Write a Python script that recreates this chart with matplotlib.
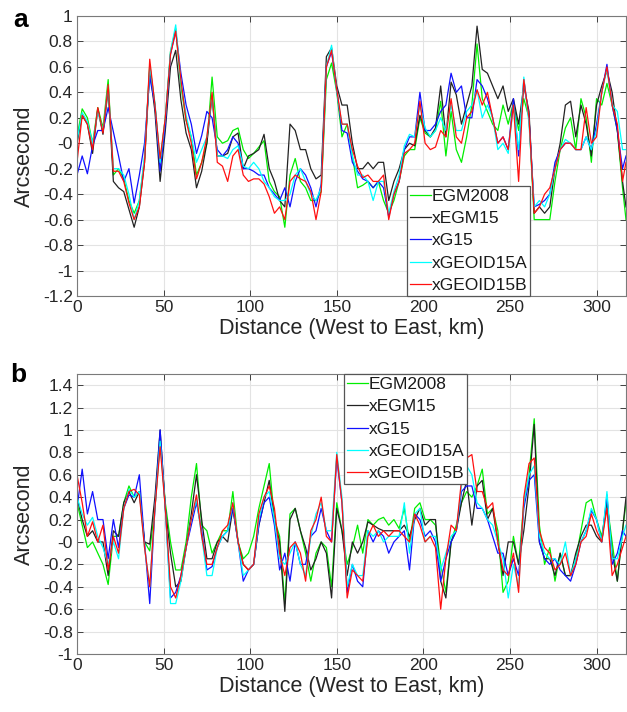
import numpy as np
import matplotlib
matplotlib.use("Agg")
import matplotlib.pyplot as plt

plt.rcParams['font.family'] = ['Liberation Sans', 'DejaVu Sans']

# distance along the profile, km (3 km steps plus the end point)
dist = list(range(0, 316, 3)) + [317]

labels = ["EGM2008", "xEGM15", "xG15", "xGEOID15A", "xGEOID15B"]
colors = ["#00ee00", "#222222", "#1010ff", "#00ffff", "#ff1010"]

# ---- panel a ----
a_egm2008 = [0.05, 0.27, 0.2, 0.0, 0.28, 0.12, 0.5, -0.25, -0.2, -0.28,
             -0.45, -0.55, -0.45, -0.12, 0.62, 0.3, -0.15, 0.2, 0.72, 0.9,
             0.45, 0.18, 0.05, -0.25, -0.15, 0.0, 0.52, 0.05, 0.0, 0.02,
             0.1, 0.12, -0.05, -0.12, -0.08, -0.03, 0.02, -0.3, -0.38, -0.42,
             -0.66, -0.25, -0.12, -0.3, -0.35, -0.45, -0.45, -0.38, 0.5, 0.63,
             0.4, 0.05, 0.15, -0.1, -0.35, -0.33, -0.3, -0.35, -0.3, -0.45,
             -0.55, -0.45, -0.3, -0.1, -0.05, -0.05, 0.2, 0.08, 0.05, 0.1,
             0.33, -0.1, 0.25, -0.05, -0.15, 0.05, 0.3, 0.78, 0.35, 0.25,
             0.15, 0.1, 0.3, 0.15, 0.32, 0.1, 0.35, 0.2, -0.6, -0.6,
             -0.6, -0.6, -0.3, -0.05, 0.12, 0.2, -0.05, 0.35, 0.2, -0.15,
             0.35, 0.3, 0.47, 0.3, 0.1, -0.35, -0.6]
a_xegm15 = [0.0, 0.22, 0.15, -0.08, 0.27, 0.07, 0.42, -0.3, -0.35, -0.38,
            -0.52, -0.66, -0.5, -0.15, 0.58, 0.25, -0.3, 0.1, 0.6, 0.73,
            0.34, 0.08, -0.05, -0.35, -0.22, 0.0, 0.37, -0.1, -0.1, -0.08,
            0.05, 0.08, -0.2, -0.1, -0.08, -0.05, 0.07, -0.2, -0.3, -0.45,
            -0.5, 0.15, 0.1, -0.05, -0.05, -0.2, -0.28, -0.25, 0.68, 0.75,
            0.45, 0.3, 0.3, 0.0, -0.2, -0.2, -0.15, -0.2, -0.15, -0.15,
            -0.45, -0.3, -0.2, -0.05, 0.0, -0.02, 0.22, 0.1, 0.05, 0.12,
            0.45, 0.05, 0.48, 0.38, 0.15, 0.3, 0.45, 0.92, 0.58, 0.55,
            0.45, 0.35, 0.45, 0.25, 0.35, 0.15, 0.45, 0.25, -0.55, -0.5,
            -0.55, -0.5, -0.2, 0.0, 0.3, 0.33, 0.05, 0.3, 0.15, -0.1,
            0.3, 0.45, 0.57, 0.4, 0.1, -0.3, -0.5]
a_xg15 = [-0.25, -0.1, -0.24, -0.02, 0.1, 0.1, 0.28, 0.09, -0.1, -0.3,
          -0.2, -0.47, -0.25, 0.0, 0.52, 0.3, -0.22, 0.15, 0.7, 0.88,
          0.55, 0.3, 0.15, -0.08, 0.06, 0.25, 0.2, -0.05, -0.1, -0.05,
          0.05, 0.0, -0.2, -0.2, -0.22, -0.25, -0.25, -0.35, -0.4, -0.45,
          -0.35, -0.5, -0.3, -0.2, -0.25, -0.35, -0.5, -0.32, 0.6, 0.72,
          0.42, 0.1, 0.08, -0.15, -0.22, -0.28, -0.3, -0.35, -0.3, -0.35,
          -0.58, -0.4, -0.3, -0.05, 0.05, 0.05, 0.4, 0.1, 0.1, 0.15,
          0.25, 0.3, 0.55, 0.4, 0.45, 0.2, 0.2, 0.5, 0.45, 0.35,
          0.2, 0.0, 0.05, -0.05, 0.35, -0.1, 0.5, 0.2, -0.5, -0.48,
          -0.45, -0.4, -0.15, -0.05, 0.0, 0.0, -0.05, -0.05, 0.05, -0.05,
          0.15, 0.4, 0.62, 0.3, 0.1, -0.2, -0.1]
a_xgeoid15a = [0.02, 0.24, 0.17, 0.0, 0.25, 0.1, 0.45, -0.2, -0.2, -0.25,
               -0.4, -0.6, -0.45, -0.1, 0.6, 0.32, -0.15, 0.2, 0.72, 0.93,
               0.48, 0.22, 0.05, -0.15, -0.05, 0.05, 0.38, -0.1, -0.1, -0.12,
               -0.05, -0.02, -0.18, -0.2, -0.15, -0.2, -0.3, -0.35, -0.42, -0.45,
               -0.45, -0.4, -0.25, -0.2, -0.3, -0.4, -0.45, -0.35, 0.6, 0.77,
               0.4, 0.15, 0.15, -0.1, -0.25, -0.25, -0.3, -0.45, -0.3, -0.3,
               -0.55, -0.38, -0.25, -0.02, 0.07, 0.05, 0.3, 0.12, 0.05, 0.1,
               0.2, 0.1, 0.3, 0.1, 0.1, 0.25, 0.3, 0.42, 0.2, 0.3,
               0.2, -0.05, 0.0, -0.08, 0.3, -0.05, 0.52, 0.15, -0.5, -0.45,
               -0.5, -0.4, -0.2, -0.05, 0.03, 0.0, -0.05, -0.05, 0.05, -0.05,
               0.1, 0.4, 0.58, 0.3, 0.25, -0.05, -0.05]
a_xgeoid15b = [-0.15, 0.22, 0.15, -0.05, 0.28, 0.08, 0.46, -0.22, -0.22, -0.3,
               -0.47, -0.6, -0.5, -0.15, 0.66, 0.3, -0.12, 0.2, 0.7, 0.88,
               0.5, 0.18, 0.0, -0.28, -0.15, 0.05, 0.4, -0.15, -0.18, -0.3,
               -0.1, -0.05, -0.25, -0.3, -0.28, -0.28, -0.32, -0.42, -0.55, -0.5,
               -0.6, -0.3, -0.25, -0.28, -0.3, -0.38, -0.6, -0.38, 0.6, 0.73,
               0.42, 0.15, 0.15, -0.05, -0.18, -0.27, -0.25, -0.3, -0.3, -0.25,
               -0.6, -0.4, -0.3, -0.08, -0.05, 0.0, 0.33, 0.0, -0.05, -0.03,
               0.1, 0.05, 0.35, 0.05, 0.0, 0.2, 0.25, 0.42, 0.3, 0.4,
               0.2, 0.0, 0.05, -0.05, 0.3, -0.3, 0.5, 0.2, -0.55, -0.5,
               -0.4, -0.35, -0.2, -0.05, 0.0, 0.0, -0.05, -0.05, 0.28, 0.0,
               0.05, 0.4, 0.6, 0.3, 0.15, -0.3, -0.15]

# ---- panel b ----
b_egm2008 = [0.35, 0.15, -0.05, 0.0, -0.1, -0.2, -0.38, 0.05, 0.05, 0.35,
             0.5, 0.4, 0.45, 0.0, -0.08, 0.3, 0.9, 0.35, 0.0, -0.25,
             -0.25, 0.0, 0.4, 0.7, 0.15, 0.1, -0.1, 0.0, 0.1, 0.1,
             0.45, 0.0, -0.15, -0.1, 0.05, 0.3, 0.5, 0.7, 0.2, 0.05,
             -0.55, 0.25, 0.3, 0.1, -0.1, -0.35, -0.1, 0.0, -0.05, -0.4,
             0.35, 0.1, -0.2, -0.05, 0.15, -0.1, 0.2, 0.15, 0.2, 0.22,
             0.15, 0.2, 0.12, 0.3, 0.0, 0.3, 0.35, 0.2, 0.2, 0.15,
             -0.2, -0.45, 0.0, 0.15, 0.35, 0.45, 0.4, 0.5, 0.65, 0.25,
             0.3, 0.1, -0.45, -0.35, 0.05, -0.2, 0.35, 0.6, 1.1, 0.15,
             -0.2, -0.05, -0.35, -0.1, -0.3, -0.3, -0.15, 0.1, 0.35, 0.38,
             0.2, 0.05, 0.35, 0.0, -0.35, 0.1, 0.35]
b_xegm15 = [0.4, 0.2, 0.05, 0.1, 0.0, 0.0, -0.3, 0.1, 0.05, 0.35,
            0.45, 0.35, 0.45, 0.0, -0.02, 0.4, 1.0, 0.3, -0.1, -0.4,
            -0.35, -0.05, 0.25, 0.6, 0.2, -0.15, -0.15, 0.0, 0.05, 0.0,
            0.3, 0.0, -0.2, -0.25, -0.2, 0.15, 0.35, 0.55, 0.2, 0.0,
            -0.62, 0.2, 0.3, 0.1, -0.05, -0.25, -0.15, 0.0, -0.1, -0.5,
            0.3, 0.1, -0.3, 0.0, -0.1, 0.0, 0.18, 0.15, 0.12, 0.1,
            0.1, 0.1, 0.1, 0.15, 0.05, 0.2, 0.3, 0.15, 0.2, 0.2,
            -0.35, -0.5, 0.0, 0.1, 0.35, 0.55, 0.15, 0.5, 0.55, 0.2,
            0.3, 0.0, -0.3, 0.0, 0.0, -0.2, 0.1, 0.5, 1.05, 0.0,
            -0.15, -0.15, -0.3, -0.1, -0.3, -0.3, -0.1, 0.05, 0.15, 0.15,
            0.05, 0.0, 0.38, -0.1, -0.35, 0.1, 0.4]
b_xg15 = [0.3, 0.65, 0.25, 0.45, 0.2, 0.2, -0.15, 0.2, -0.05, 0.3,
          0.42, 0.4, 0.6, 0.0, -0.55, 0.3, 1.0, 0.3, -0.5, -0.45,
          -0.3, -0.05, 0.15, 0.35, 0.1, -0.25, -0.22, -0.05, 0.05, 0.1,
          0.3, 0.0, -0.35, -0.25, -0.2, 0.15, 0.35, 0.4, 0.15, -0.25,
          -0.1, -0.35, 0.0, -0.2, -0.2, 0.05, 0.1, 0.3, 0.1, 0.0,
          0.75, 0.35, -0.45, -0.2, -0.35, -0.4, 0.1, 0.0, 0.1, 0.05,
          -0.1, 0.0, 0.05, 0.1, -0.25, 0.25, 0.2, 0.05, 0.1, 0.0,
          -0.35, -0.15, 0.0, 0.1, 0.45, 0.5, 0.5, 0.3, 0.3, 0.2,
          0.05, -0.1, -0.1, -0.3, -0.15, -0.3, 0.3, 0.55, 0.6, 0.0,
          -0.15, -0.2, -0.15, -0.25, -0.3, -0.35, -0.2, 0.0, 0.1, 0.28,
          0.2, 0.0, 0.42, -0.2, -0.1, 0.1, 0.05]
b_xgeoid15a = [0.4, 0.25, 0.15, 0.22, 0.05, -0.05, -0.2, 0.0, -0.15, 0.3,
               0.47, 0.4, 0.45, -0.05, -0.4, 0.3, 0.9, 0.3, -0.55, -0.55,
               -0.35, -0.05, 0.2, 0.38, 0.05, -0.3, -0.3, -0.05, 0.05, 0.1,
               0.35, 0.0, -0.3, -0.25, -0.2, 0.2, 0.4, 0.45, 0.2, -0.15,
               -0.2, -0.1, 0.0, -0.2, -0.3, 0.05, 0.25, 0.35, 0.1, 0.1,
               0.8, 0.4, -0.4, -0.2, -0.3, -0.3, 0.1, 0.05, 0.1, 0.0,
               0.05, 0.05, 0.05, 0.35, -0.1, 0.25, 0.3, 0.0, 0.05, 0.05,
               -0.25, -0.1, 0.05, 0.1, 0.5, 0.68, 0.6, 0.35, 0.3, 0.2,
               0.15, 0.0, -0.15, -0.5, -0.2, -0.4, 0.35, 0.6, 0.68, 0.05,
               -0.1, -0.15, -0.15, -0.2, 0.0, -0.3, -0.15, 0.0, 0.1, 0.3,
               0.2, 0.0, 0.45, -0.15, -0.15, 0.05, 0.15]
b_xgeoid15b = [0.6, 0.35, 0.05, 0.18, 0.0, 0.15, -0.25, 0.05, -0.1, 0.3,
               0.45, 0.47, 0.42, -0.05, -0.4, 0.3, 0.85, 0.3, -0.4, -0.5,
               -0.3, -0.05, 0.2, 0.42, 0.05, -0.2, -0.2, -0.05, 0.1, 0.15,
               0.35, 0.0, -0.2, -0.25, -0.2, 0.25, 0.4, 0.5, 0.3, -0.1,
               -0.3, -0.05, 0.0, -0.1, -0.35, 0.1, 0.2, 0.4, 0.05, 0.0,
               0.78, 0.35, -0.5, -0.25, -0.3, -0.35, 0.05, 0.15, 0.05, 0.1,
               0.05, 0.1, 0.1, 0.05, 0.0, 0.25, 0.15, 0.0, 0.05, -0.05,
               -0.6, -0.15, 0.15, 0.1, 0.55, 0.75, 0.78, 0.45, 0.45, 0.3,
               0.35, 0.0, -0.25, -0.3, -0.1, -0.45, 0.4, 0.7, 0.75, 0.1,
               -0.05, -0.1, -0.25, -0.2, -0.1, -0.3, -0.2, 0.0, 0.05, 0.25,
               0.1, 0.0, 0.3, -0.3, -0.2, -0.05, 0.05]

panel_a = [a_egm2008, a_xegm15, a_xg15, a_xgeoid15a, a_xgeoid15b]
panel_b = [b_egm2008, b_xegm15, b_xg15, b_xgeoid15a, b_xgeoid15b]

fig = plt.figure(figsize=(6.27, 7.12), dpi=100)
ax_a = fig.add_axes([0.1228, 0.5843, 0.8756, 0.3933])
ax_b = fig.add_axes([0.1228, 0.0815, 0.8756, 0.3933])

axcol = "#262626"


def style_axes(ax, ylim, yticks):
    ax.set_xlim(0, 317)
    ax.set_ylim(*ylim)
    ax.set_xticks(np.arange(0, 301, 50))
    ax.set_yticks(yticks)
    ax.set_yticklabels(["%g" % round(t, 1) for t in yticks])
    ax.grid(True, color="#e3e3e3", linewidth=0.8)
    ax.set_axisbelow(True)
    ax.tick_params(direction="in", length=4, width=0.6, colors=axcol,
                   labelsize=12.5, top=True, right=True, pad=3)
    for sp in ax.spines.values():
        sp.set_color("#7a7a7a")
        sp.set_linewidth(0.8)
    ax.set_xlabel("Distance (West to East, km)", fontsize=15.5, color=axcol,
                  labelpad=2)
    ax.set_ylabel("Arcsecond", fontsize=15.5, color=axcol, labelpad=6)


for ax, series, ylim, yt in [
        (ax_a, panel_a, (-1.2, 1.0), np.arange(-1.2, 1.01, 0.2)),
        (ax_b, panel_b, (-1.0, 1.5), np.arange(-1.0, 1.41, 0.2))]:
    for vals, col, lab in zip(series, colors, labels):
        ax.plot(dist, vals, color=col, linewidth=0.9, label=lab)
    style_axes(ax, ylim, yt)

leg_kw = dict(fontsize=12.5, handlelength=1.2, handletextpad=0.05,
              borderpad=0.15, labelspacing=0.42, borderaxespad=0,
              fancybox=False, framealpha=1, edgecolor="#555555")
la = ax_a.legend(loc="lower left", bbox_to_anchor=(0.602, 0.0), **leg_kw)
lb = ax_b.legend(loc="upper left", bbox_to_anchor=(0.487, 1.0), **leg_kw)
for lg in (la, lb):
    lg.get_frame().set_linewidth(0.9)
    for t in lg.get_texts():
        t.set_color("#1a1a1a")

fig.text(0.032, 0.972, "a", fontsize=19, fontweight="bold", ha="center", va="center")
fig.text(0.029, 0.474, "b", fontsize=19, fontweight="bold", ha="center", va="center")

fig.savefig("out.png", dpi=100)
